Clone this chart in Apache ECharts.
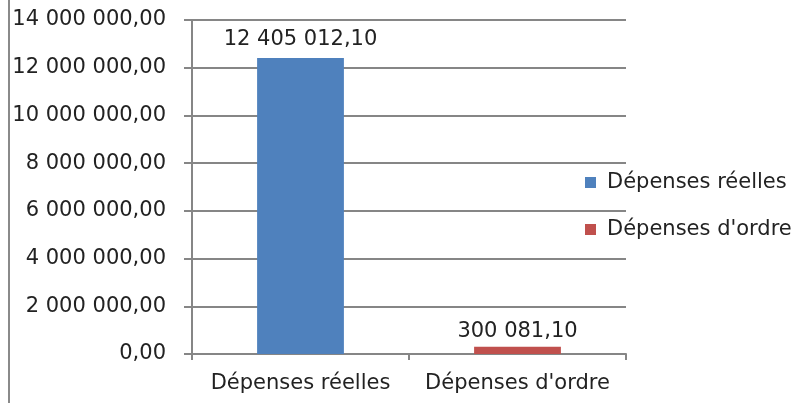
<!DOCTYPE html>
<html>
<head>
<meta charset="utf-8">
<script src="https://cdn.jsdelivr.net/npm/echarts@6/dist/echarts.min.js"></script>
<style>
html,body{margin:0;padding:0;background:#fff;}
#frame{position:absolute;left:8px;top:0;width:2px;height:403px;background:#8a8a8a;}
#chart{position:absolute;left:0;top:0;width:803px;height:403px;}
</style>
</head>
<body>
<div id="chart"></div>
<div id="frame"></div>
<script>
const categories = ["Dépenses réelles", "Dépenses d'ordre"];
const seriesNames = ["Dépenses réelles", "Dépenses d'ordre"];
const reellesValues = [12405012.10, null];
const ordreValues = [null, 300081.10];
const yTicks = { min: 0, max: 14000000, interval: 2000000 };

function fmt(v) {
  const parts = Number(v).toFixed(2).split('.');
  const intPart = parts[0].replace(/\B(?=(\d{3})+(?!\d))/g, ' ');
  return intPart + ',' + parts[1];
}

const FONT = 'DejaVu Sans';
const chart = echarts.init(document.getElementById('chart'), null, {renderer: 'canvas'});
chart.setOption({
  animation: false,
  textStyle: { fontFamily: FONT },
  grid: { left: 192, right: 177, top: 20, bottom: 49, containLabel: false },
  legend: {
    orient: 'vertical',
    left: 585,
    top: 172,
    padding: 0,
    itemWidth: 11,
    itemHeight: 11,
    itemGap: 26,
    icon: 'rect',
    textStyle: { fontFamily: FONT, fontSize: 21, color: '#222', padding: [0, 0, 0, 6] },
    data: seriesNames
  },
  xAxis: {
    type: 'category',
    data: categories,
    axisLine: { lineStyle: { color: '#868686', width: 2 } },
    axisTick: { show: true, length: 6, lineStyle: { color: '#868686', width: 2 } },
    axisLabel: { fontFamily: FONT, fontSize: 21, color: '#222', margin: 19, interval: 0, hideOverlap: false }
  },
  yAxis: {
    type: 'value',
    min: yTicks.min,
    max: yTicks.max,
    interval: yTicks.interval,
    axisLine: { show: true, lineStyle: { color: '#868686', width: 2 } },
    axisTick: { show: true, length: 8, lineStyle: { color: '#868686', width: 2 } },
    splitLine: { lineStyle: { color: '#868686', width: 2 } },
    axisLabel: { fontFamily: FONT, fontSize: 21, color: '#222', margin: 26, formatter: fmt }
  },
  series: [
    {
      name: seriesNames[0], type: 'bar', stack: 'a', data: reellesValues,
      barCategoryGap: '60%',
      itemStyle: { color: '#4F81BD' },
      label: { show: true, position: 'top', distance: 8, fontFamily: FONT, fontSize: 21, color: '#222', formatter: p => fmt(p.value) }
    },
    {
      name: seriesNames[1], type: 'bar', stack: 'a', data: ordreValues,
      barCategoryGap: '60%',
      itemStyle: { color: '#C0504D' },
      label: { show: true, position: 'top', distance: 5, fontFamily: FONT, fontSize: 21, color: '#222', formatter: p => fmt(p.value) }
    }
  ]
});
</script>
</body>
</html>
